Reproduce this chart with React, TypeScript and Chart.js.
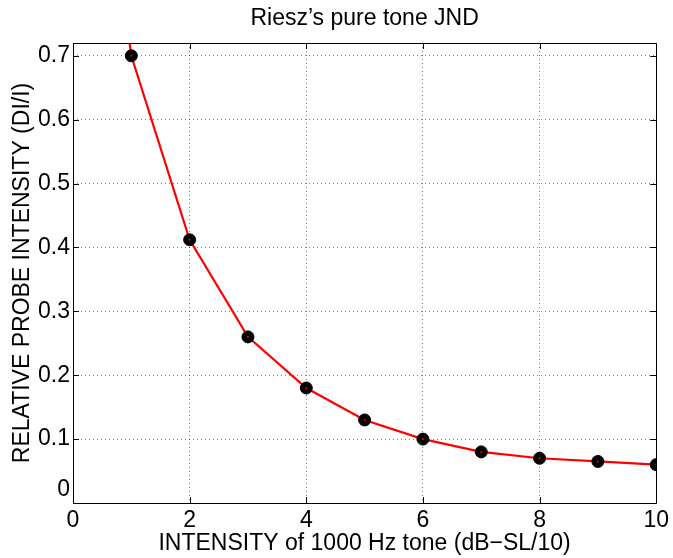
import { useEffect, useRef } from "react";
import { Chart, registerables } from "chart.js";

Chart.register(...registerables);

const chartTitle = "Riesz\u2019s pure tone JND";
const xTitle = "INTENSITY of 1000 Hz tone (dB\u2212SL/10)";
const yTitle = "RELATIVE PROBE INTENSITY (DI/I)";

const intensity = [1, 2, 3, 4, 5, 6, 7, 8, 9, 10];
const relIntensity = [0.7, 0.412, 0.26, 0.18, 0.13, 0.1, 0.08, 0.07, 0.065, 0.06];
const fitX = [0.9, ...intensity];
const fitY = [0.77, ...relIntensity];
const xTicks = [0, 2, 4, 6, 8, 10];
const yTicks = [0, 0.1, 0.2, 0.3, 0.4, 0.5, 0.6, 0.7];

const FONT = "'Liberation Sans', Arial, Helvetica, sans-serif";

const framePlugin = {
  id: "frame",
  afterDraw(chart: any) {
    const { ctx, chartArea } = chart;
    const { left, right, top, bottom } = chartArea;
    const xs = chart.scales.x;
    const ys = chart.scales.y;
    ctx.save();
    ctx.strokeStyle = "#000";
    ctx.lineWidth = 1;
    ctx.setLineDash([]);
    ctx.beginPath();
    ctx.rect(Math.round(left) + 0.5, Math.round(top) + 0.5, Math.round(right - left), Math.round(bottom - top));
    ctx.stroke();
    const tl = 6;
    ctx.beginPath();
    xTicks.forEach((v) => {
      const px = Math.round(xs.getPixelForValue(v)) + 0.5;
      ctx.moveTo(px, bottom);
      ctx.lineTo(px, bottom - tl);
      ctx.moveTo(px, top);
      ctx.lineTo(px, top + tl);
    });
    yTicks.forEach((v) => {
      const py = Math.round(ys.getPixelForValue(v)) + 0.5;
      ctx.moveTo(left, py);
      ctx.lineTo(left + tl, py);
      ctx.moveTo(right, py);
      ctx.lineTo(right - tl, py);
    });
    ctx.stroke();
    ctx.fillStyle = "#000";
    ctx.font = `23px ${FONT}`;
    ctx.textAlign = "center";
    ctx.textBaseline = "middle";
    ctx.fillText(chartTitle, (left + right) / 2, 19);
    ctx.restore();
  },
};

export default function App() {
  const ref = useRef<HTMLCanvasElement | null>(null);
  useEffect(() => {
    document.body.style.margin = "0";
    const canvas = ref.current;
    if (!canvas) return;
    const chart = new Chart(canvas, {
      type: "scatter",
      data: {
        datasets: [
          {
            type: "line",
            data: fitX.map((x, i) => ({ x, y: fitY[i] })),
            borderColor: "#ff0000",
            borderWidth: 2.2,
            pointRadius: 0,
            fill: false,
            tension: 0,
            order: 3,
          } as any,
          {
            data: intensity.map((x, i) => ({ x, y: relIntensity[i] })),
            backgroundColor: "#000",
            borderColor: "#000",
            pointRadius: 6,
            borderWidth: 1,
            order: 2,
          },
          {
            data: intensity.map((x, i) => ({ x, y: relIntensity[i] })),
            backgroundColor: "#ff0000",
            borderColor: "#ff0000",
            pointRadius: 1,
            borderWidth: 0,
            order: 1,
          },
        ],
      },
      options: {
        animation: false,
        responsive: false,
        devicePixelRatio: 1,
        layout: { padding: { left: 0, top: 43, right: 14, bottom: 0 } },
        plugins: {
          legend: { display: false },
          tooltip: { enabled: false },
          title: { display: false },
        },
        scales: {
          x: {
            type: "linear",
            min: 0,
            max: 10,
            afterBuildTicks: (s: any) => {
              s.ticks = xTicks.map((value) => ({ value }));
            },
            afterFit: (s: any) => {
              s.height = 55;
            },
            ticks: {
              font: { family: FONT, size: 23 },
              color: "#000",
              padding: 4,
              maxRotation: 0,
              callback: (v: any) => String(v),
            },
            grid: { color: "rgba(0,0,0,0.5)", drawTicks: false, lineWidth: 1 },
            border: { display: false, dash: [1, 3] },
            title: {
              display: true,
              text: xTitle,
              font: { family: FONT, size: 23 },
              color: "#000",
              padding: { top: 0, bottom: 1 },
            },
          },
          y: {
            type: "linear",
            min: 0,
            max: 0.72,
            afterBuildTicks: (s: any) => {
              s.ticks = yTicks.map((value) => ({ value }));
            },
            afterFit: (s: any) => {
              s.width = 73;
            },
            ticks: {
              font: { family: FONT, size: 23 },
              color: "#000",
              padding: 3,
              callback: (v: any) => (v === 0 ? ["0", ""] : String(Math.round(v * 10) / 10)),
            },
            grid: { color: "rgba(0,0,0,0.5)", drawTicks: false, lineWidth: 1 },
            border: { display: false, dash: [1, 3] },
            title: {
              display: true,
              text: yTitle,
              font: { family: FONT, size: 23 },
              color: "#000",
              padding: { top: 9, bottom: 0 },
            },
          },
        },
      },
      plugins: [framePlugin],
    });
    return () => chart.destroy();
  }, []);
  return <canvas ref={ref} width={673} height={558} style={{ display: "block", width: 673, height: 558 }} />;
}
